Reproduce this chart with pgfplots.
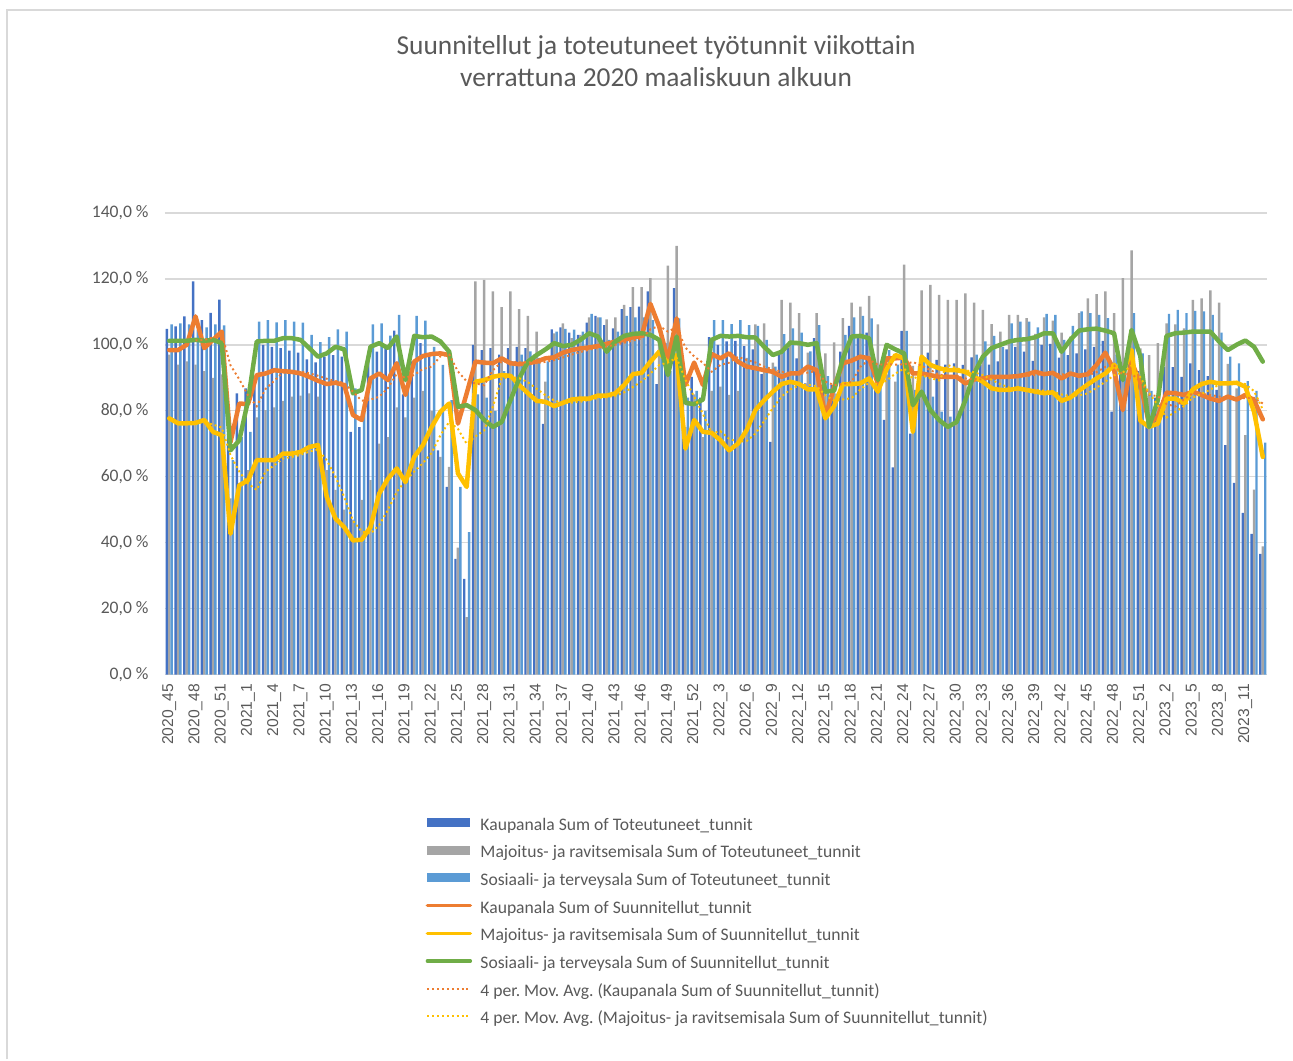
\documentclass[border=0pt]{standalone}
\usepackage{fontspec}
\setmainfont{Carlito}
\newfontfamily\arialfont{Liberation Sans}
\usepackage{pgfplots}
\usepackage{pgfplotstable}
\pgfplotsset{compat=1.18}
\definecolor{kblue}{HTML}{4472C4}
\definecolor{mgray}{HTML}{A5A5A5}
\definecolor{sblue}{HTML}{5B9BD5}
\definecolor{korange}{HTML}{ED7D31}
\definecolor{myellow}{HTML}{FFC000}
\definecolor{sgreen}{HTML}{70AD47}
\definecolor{txt}{HTML}{595959}
\definecolor{gridc}{HTML}{D9D9D9}

\pgfplotstableread{
x k m s kp mp sp
0 104.8 97 106.2 98.4 77.7 101.2
1 105.6 94 106.5 98.4 76.2 101.2
2 108.6 95 106.2 100 76.2 101.2
3 119.2 94 104.5 108.6 76.3 101.5
4 107.5 92 105.3 99 77.2 101.2
5 109.7 90 106.2 101.5 73.6 101.5
6 113.7 91 105.9 104 72.6 100.5
7 73 53.4 65 70.5 42.7 68
8 85.3 58 72 82.2 57.4 71
9 86.8 62 73.6 82 58.9 83
10 90.3 78 107 90.8 65 101
11 100 80.2 107.5 91.3 65 101.2
12 99.4 81 106.8 92.3 65 101.2
13 99 83 107.5 92 67 102
14 98.2 84.3 107 91.8 67 102
15 97.6 84.6 106.7 91.3 67.5 101.5
16 95.6 85.3 103 90.3 69 99
17 94.7 84.3 100.8 89.1 69.6 96.4
18 96.4 62 102.3 88.1 53.9 97.4
19 96.9 56 104.7 88.5 47.3 99.4
20 96.4 50 104 87.8 44.7 98.6
21 73.6 47 86.8 78.7 40.7 85.3
22 75 53 82 77.2 40.9 86.3
23 96 59 106.2 89.8 44.7 99.4
24 97.9 70 106.5 91.3 54.9 100.5
25 99 72 102.8 89.3 59.4 99
26 104.3 81 109.1 94.4 62.5 102.5
27 85 78 92 84.8 58.4 89.3
28 95 84 108.8 94.9 66 102.7
29 100.5 86 107.3 96.6 69.6 102.3
30 97 80 99.4 97.2 75.1 102.5
31 68 66 93.9 97.4 79.7 101
32 56.9 63 83.2 96.9 82.2 97.9
33 35.1 38.5 56.9 76.1 61 81.2
34 29 17.4 43.2 85.3 56.9 81.7
35 100 119.2 85 94.9 88.8 80.2
36 98.4 119.7 84 94.6 89.3 77.2
37 99 116.2 80 94.4 90.3 75.1
38 97 111.4 92 95.9 90.8 76.6
39 99 116.2 95 94.4 90.6 83.2
40 99.4 110.8 97 94.1 87.8 89.8
41 99 108.8 98 94.4 85.3 94.9
42 97 104 96 94.9 83 96.9
43 76 88.8 95 95.9 82.7 98.6
44 104.7 103.5 104 96.2 81.4 100.5
45 105.3 106.5 104.8 97.6 82.4 99.6
46 103.7 102 104.6 98.4 83.4 100
47 103 103 104 98.9 83.7 101.5
48 106.7 108.3 109.4 99.2 83.7 103.5
49 108.8 108.3 108.3 99.6 84.6 102.5
50 106 107.7 101.5 100.3 84.6 97.9
51 105 108.3 104 101 85.3 101
52 110.8 112.1 108.8 101.5 87.8 102.7
53 111.4 117.5 108.3 102.3 91.1 103.3
54 111.6 117.5 108.3 102.7 91.5 103.5
55 116.2 120.2 107.5 112.4 94.9 103
56 88.1 100 99 105.5 97.9 101.5
57 100.5 124 92 95.4 94.4 90.8
58 117.2 130 108 108 96.9 102.5
59 88 75 84 87.8 68.5 82.4
60 90.3 85 86 94.6 77.2 82
61 84 72 80 87.8 73.6 83.4
62 102.3 86 107.5 97.2 73.3 101.5
63 100 87.3 107.5 95.9 71.1 102.7
64 101 84.8 106.3 97.4 68 102.5
65 101.2 86 107.5 94.9 70 102.7
66 99.6 96 106 93.4 74.1 102.3
67 98.6 106.2 105.7 92.9 80.2 102.2
68 91.1 106.5 101.5 92.3 83.2 99.4
69 70.6 94.6 93.4 91.8 85.8 96.9
70 97.2 113.6 103.2 90.3 88.1 97.9
71 99 112.8 105 91.3 88.8 100.7
72 95.9 109.6 103.7 91.3 88.1 100.5
73 88.3 97.6 98 93.4 86.5 100
74 102 109.6 106 92.3 86.5 100.5
75 88 97.4 90.5 78.2 77.7 85.8
76 87.8 100.7 85.2 87.3 81.4 86.1
77 97.9 108.1 103 94.4 88.1 95.9
78 105.7 112.8 108.3 95.2 88.1 102.5
79 103 111.6 108.8 96.4 88.3 102.7
80 103.7 114.8 108 95.9 89.8 102
81 88 106.2 90 88.3 85.8 89.3
82 77.2 91 98.4 95.9 92.6 100
83 62.8 88.8 94 95.9 96.9 98.6
84 104.2 124.3 104.2 96.1 95.9 97.4
85 73.1 93.6 86.3 91.3 73.6 81.7
86 93.5 116.5 96 91.3 96.4 85.8
87 97.6 118.2 84.3 90.8 93.9 80.2
88 95.4 115.1 79.7 90.3 92.9 77.2
89 94 113.6 78.2 90.3 92.3 75.1
90 94.4 113.6 80 90.3 92.3 76.6
91 93.9 115.6 87 88.3 91.8 83.2
92 96.2 112.8 97 89.5 90.3 91.3
93 94 110.6 101 89.8 88.8 96.4
94 94 106.3 102.7 90.3 86.8 99
95 95 104 99.4 90.3 86.3 100
96 98.6 109.1 106.5 90.3 86.3 101
97 99.4 109.1 107 90.5 86.8 101.5
98 97.9 108.1 107 91 86.3 101.7
99 95.1 103.3 105.3 91.8 85.8 102.3
100 100 108.3 109.4 91.1 85.3 103.5
101 100.3 107.3 109.1 91.5 85.6 103.5
102 96.1 103.7 101.5 89.8 83 97.9
103 96.9 102.5 105.7 91.3 84 101.5
104 97.4 109.6 110.1 90.6 86.1 104.3
105 98.6 114.1 109.6 91.1 88 104.7
106 99.4 115.4 109.1 93.9 89.8 104.9
107 101.2 116.2 108.1 97.6 91.3 104.3
108 79.7 109.6 97 92.3 93.9 103.5
109 93 120.2 96 80.2 91.3 89.3
110 95.4 128.6 109.6 94.9 98.4 104.5
111 92 98.9 97.4 88.3 77 96.5
112 75 96.9 86 76.1 75.1 75.1
113 84 100.5 82 78.2 76.1 83.2
114 93.4 106.5 109.4 85.5 83.7 102.7
115 93.2 106.2 110.6 85.3 83.7 103.5
116 90.3 105 109.6 84.8 82.2 103.7
117 94.4 113.6 110.3 85.8 86.5 104
118 92.3 114.1 110.1 84.8 88.1 104
119 90.5 116.5 109.1 83.7 88.8 104
120 86.3 112.8 103.7 83 88.3 101
121 69.6 94.2 96.4 84.3 88.3 98.4
122 58.1 86.8 94.4 83.4 88.5 100
123 49 72.6 89 84.8 87.3 101.3
124 42.7 56.1 86 83.2 79.7 99.4
125 36.6 38.9 70.3 77.4 66 94.9
}\data

% 4-period moving average (Excel trendline), computed from the plotted column
\newcommand\makema[2]{%
 \pgfplotstablecreatecol[create col/assign/.code={%
   \ifnum\pgfplotstablerow=0 \def\myv{0}\else\getprevrow{#1}\myv\fi
   \pgfkeyslet{/pgfplots/table/create col/next content}\myv}]{#2a}{\data}%
 \pgfplotstablecreatecol[create col/assign/.code={%
   \ifnum\pgfplotstablerow=0 \def\myv{0}\else\getprevrow{#2a}\myv\fi
   \pgfkeyslet{/pgfplots/table/create col/next content}\myv}]{#2b}{\data}%
 \pgfplotstablecreatecol[create col/assign/.code={%
   \ifnum\pgfplotstablerow=0 \def\myv{0}\else\getprevrow{#2b}\myv\fi
   \pgfkeyslet{/pgfplots/table/create col/next content}\myv}]{#2c}{\data}%
 \pgfplotstablecreatecol[create col/assign/.code={%
   \ifnum\pgfplotstablerow<3 \def\myv{nan}\else
     \getthisrow{#1}\va\getthisrow{#2a}\vb\getthisrow{#2b}\vc\getthisrow{#2c}\vd
     \pgfmathparse{(\va+\vb+\vc+\vd)/4}\let\myv\pgfmathresult
   \fi
   \pgfkeyslet{/pgfplots/table/create col/next content}\myv}]{#2}{\data}%
}
\makema{kp}{kma}
\makema{mp}{mma}

\begin{document}
\frenchspacing
\begin{tikzpicture}
\begin{scope}[x=0.511pt,y=0.511pt]
\path (0,0) rectangle (1293,1060);
\draw[gridc, line width=0.8pt] (7,0) -- (7,1050) -- (1293,1050);
\node[align=center, text=txt, font=\fontsize{14}{16.35}\selectfont] at (656.5,999)
  {Suunnitellut ja toteutuneet työtunnit viikottain\\verrattuna 2020 maaliskuun alkuun};
\end{scope}
\begin{axis}[
  at={(84.315pt,196.735pt)}, anchor=south west,
  scale only axis, width=563.6pt, height=236.08pt,
  xmin=-0.5, xmax=125.5, ymin=0, ymax=140,
  ytick={0,20,...,140},
  xtick={0,3,...,123},
  xticklabels={2020\_45,2020\_48,2020\_51,2021\_1,2021\_4,2021\_7,2021\_10,2021\_13,2021\_16,2021\_19,2021\_22,2021\_25,2021\_28,2021\_31,2021\_34,2021\_37,2021\_40,2021\_43,2021\_46,2021\_49,2021\_52,2022\_3,2022\_6,2022\_9,2022\_12,2022\_15,2022\_18,2022\_21,2022\_24,2022\_27,2022\_30,2022\_33,2022\_36,2022\_39,2022\_42,2022\_45,2022\_48,2022\_51,2023\_2,2023\_5,2023\_8,2023\_11},
  ymajorgrids, grid style={gridc, line width=0.75pt},
  axis line style={draw=none},
  major tick length=0pt,
  yticklabel={\pgfmathprintnumber[fixed,fixed zerofill,precision=1,use comma,assume math mode=true]{\tick}~\%},
  yticklabel style={font=\fontsize{9}{10}\selectfont, text=txt, inner sep=0pt, xshift=-8.2pt},
  xticklabel style={font=\arialfont\fontsize{8}{9}\selectfont, text=txt, rotate=90, anchor=east, inner sep=0pt},
  xticklabel shift=4.6pt,
  legend style={at={(0.2366,-0.3074)}, anchor=north west, draw=none, fill=none,
    inner sep=0pt, outer sep=0pt, font=\fontsize{9}{10}\selectfont, text=txt,
    row sep=5.15pt, column sep=4.3pt,
    nodes={inner sep=0pt, text height=7pt, text depth=2pt}},
  legend cell align=left,
]
\addplot[ybar, bar width=0.28, bar shift=0pt, fill=kblue, draw=none,
  legend image code/.code={\fill[kblue] (0pt,-0.9pt) rectangle (22pt,3.7pt);}]
  table[x expr=\thisrow{x}-0.28, y=k]{\data};
\addlegendentry{Kaupanala Sum of Toteutuneet\_tunnit}
\addplot[ybar, bar width=0.28, bar shift=0pt, fill=mgray, draw=none,
  legend image code/.code={\fill[mgray] (0pt,-0.9pt) rectangle (22pt,3.7pt);}]
  table[x=x, y=m]{\data};
\addlegendentry{Majoitus- ja ravitsemisala Sum of Toteutuneet\_tunnit}
\addplot[ybar, bar width=0.28, bar shift=0pt, fill=sblue, draw=none,
  legend image code/.code={\fill[sblue] (0pt,-0.9pt) rectangle (22pt,3.7pt);}]
  table[x expr=\thisrow{x}+0.28, y=s]{\data};
\addlegendentry{Sosiaali- ja terveysala Sum of Toteutuneet\_tunnit}
\addplot[korange, line width=2.3pt, line join=round, line cap=round,
  legend image code/.code={\draw[korange, line width=1.7pt, line cap=round] (0pt,1.4pt) -- (22pt,1.4pt);}]
  table[x=x, y=kp]{\data};
\addlegendentry{Kaupanala Sum of Suunnitellut\_tunnit}
\addplot[myellow, line width=2.3pt, line join=round, line cap=round,
  legend image code/.code={\draw[myellow, line width=1.7pt, line cap=round] (0pt,1.4pt) -- (22pt,1.4pt);}]
  table[x=x, y=mp]{\data};
\addlegendentry{Majoitus- ja ravitsemisala Sum of Suunnitellut\_tunnit}
\addplot[sgreen, line width=2.3pt, line join=round, line cap=round,
  legend image code/.code={\draw[sgreen, line width=1.7pt, line cap=round] (0pt,1.4pt) -- (22pt,1.4pt);}]
  table[x=x, y=sp]{\data};
\addlegendentry{Sosiaali- ja terveysala Sum of Suunnitellut\_tunnit}
\addplot[korange, line width=1pt, dash pattern=on 1pt off 1.5pt,
  legend image code/.code={\draw[korange, line width=1pt, dash pattern=on 1pt off 1.5pt] (0pt,1.4pt) -- (22pt,1.4pt);}]
  table[x=x, y=kma]{\data};
\addlegendentry{4 per. Mov. Avg. (Kaupanala Sum of Suunnitellut\_tunnit)}
\addplot[myellow, line width=1pt, dash pattern=on 1pt off 1.5pt,
  legend image code/.code={\draw[myellow, line width=1pt, dash pattern=on 1pt off 1.5pt] (0pt,1.4pt) -- (22pt,1.4pt);}]
  table[x=x, y=mma]{\data};
\addlegendentry{4 per. Mov. Avg. (Majoitus- ja ravitsemisala Sum of Suunnitellut\_tunnit)}
\end{axis}
\end{tikzpicture}
\end{document}
